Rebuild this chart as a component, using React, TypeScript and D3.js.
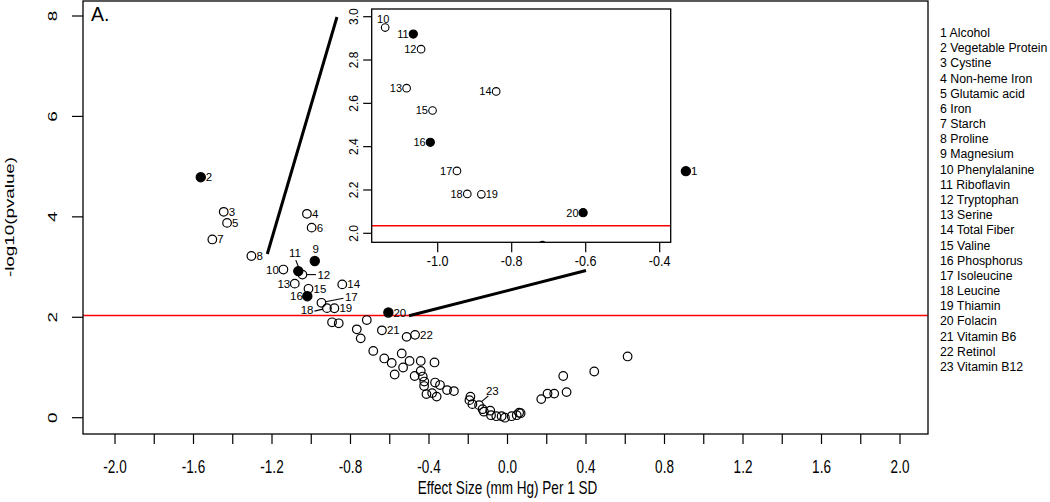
import React from "react";
import * as d3 from "d3";

const W = 1050;
const H = 502;
const FONT = "'Liberation Sans', Arial, Helvetica, sans-serif";

// ---- data -------------------------------------------------------------
const nutrientNames = [
  "Alcohol", "Vegetable Protein", "Cystine", "Non-heme Iron", "Glutamic acid",
  "Iron", "Starch", "Proline", "Magnesium", "Phenylalanine", "Riboflavin",
  "Tryptophan", "Serine", "Total Fiber", "Valine", "Phosphorus", "Isoleucine",
  "Leucine", "Thiamin", "Folacin", "Vitamin B6", "Retinol", "Vitamin B12",
];
const labeledEffect = [
  0.909, -1.563, -1.446, -1.022, -1.429, -0.998, -1.504, -1.305, -0.982, -1.142,
  -1.066, -1.045, -1.084, -0.842, -1.014, -1.02, -0.948, -0.92, -0.882, -0.607,
  -0.64, -0.471, -0.145,
];
const labeledNegLogP = [
  4.91, 4.79, 4.1, 4.06, 3.88, 3.785, 3.55, 3.22, 3.12, 2.95, 2.92, 2.85, 2.67,
  2.655, 2.567, 2.42, 2.288, 2.182, 2.18, 2.095, 1.74, 1.65, 0.25,
];
const labeledFilled = [
  true, true, false, false, false, false, false, false, true, false, true, false,
  false, false, false, true, false, false, false, true, false, false, false,
];
const otherEffect = [
  -0.894, -0.86, -0.717, -0.768, -0.748, -0.514, -0.684, -0.628, -0.59, -0.575,
  -0.539, -0.532, -0.499, -0.442, -0.372, -0.442, -0.473, -0.432, -0.425, -0.424,
  -0.413, -0.384, -0.361, -0.369, -0.344, -0.308, -0.273, -0.194, -0.189, -0.179,
  -0.127, -0.12, -0.088, -0.084, -0.057, -0.03, -0.013, 0.021, 0.047, 0.059,
  0.067, 0.172, 0.204, 0.238, 0.301, 0.284, 0.442, 0.612,
];
const otherNegLogP = [
  1.9, 1.88, 1.945, 1.76, 1.58, 1.61, 1.33, 1.18, 1.09, 0.86, 1.28, 1.0, 1.13,
  1.13, 1.1, 0.93, 0.83, 0.82, 0.63, 0.72, 0.47, 0.49, 0.42, 0.7, 0.65, 0.55,
  0.53, 0.35, 0.42, 0.27, 0.17, 0.12, 0.14, 0.05, 0.03, 0.03, 0.0, 0.03, 0.05,
  0.1, 0.09, 0.37, 0.48, 0.48, 0.51, 0.83, 0.92, 1.22,
];
const threshold = 2.035;
const xTicks = d3.range(-2.0, 2.0001, 0.2);
const xTickLabels = ["-2.0", "-1.6", "-1.2", "-0.8", "-0.4", "0.0", "0.4", "0.8", "1.2", "1.6", "2.0"];
const yTicks = [0, 2, 4, 6, 8];
const insetXTicks = [-1.0, -0.8, -0.6, -0.4];
const insetYTicks = [2.0, 2.2, 2.4, 2.6, 2.8, 3.0];
// zoom connector lines (data coords of the main panel)
const zoomLineA = [[-1.224, 3.26], [-0.869, 7.98]];
const zoomLineB = [[-0.502, 2.03], [0.4, 2.93]];

// label placement in main panel: r = right, l = left, t = top, k = leader line
const mainLabelSide = ["r","r","r","r","r","r","r","r","t","l","k","k","l","r","r","l","k","k","r","r","r","r","k"];
// inset label placement for ids 10..20
const insetLabelSide = ["t","l","l","l","l","l","l","l","l","r","l"];

// ---- layout -----------------------------------------------------------
const M = { left: 83, right: 928, top: 1, bottom: 434 };
const x = d3.scaleLinear().domain([-2, 2]).range([115, 900]);
const y = d3.scaleLinear().domain([0, 8]).range([417.7, 16]);
const IN = { left: 371.7, right: 670.7, top: 9, bottom: 242.3 };
const ix = d3.scaleLinear().domain([-1.0, -0.4]).range([437.7, 659.7]);
const iy = d3.scaleLinear().domain([2.0, 3.0]).range([233.3, 16.7]);

function T(props: any) {
  const { x: tx, y: ty, size, anchor = "middle", sx = 1, rot = 0, children, fill = "#000" } = props;
  return (
    <text
      transform={`translate(${tx},${ty}) scale(${sx},1) rotate(${rot})`}
      textAnchor={anchor}
      fontSize={size}
      fontFamily={FONT}
      fill={fill}
    >
      {children}
    </text>
  );
}

const leaders: Record<number, any> = {
  11: { line: [-2.5, -11, 0, -4.6], lx: -3.4, ly: -14, anchor: "middle" },
  12: { line: [4.4, 0, 13.5, 0], lx: 15, ly: 4, anchor: "start" },
  17: { line: [4, -1, 22, -4.5], lx: 23.5, ly: -2, anchor: "start" },
  18: { line: [-4, 1, -12.5, 3], lx: -13.5, ly: 6, anchor: "end" },
  23: { line: [2.5, -3.5, 9.3, -9.3], lx: 13.3, ly: -10, anchor: "middle" },
};

export default function App() {
  const R = 4.3;
  const IR = 3.8;
  const lblSize = 11.5;
  const axisSize = 18.8;
  const sxAxis = 0.72;

  const mainPoints = labeledEffect.map((e, i) => ({ e, p: labeledNegLogP[i], f: labeledFilled[i], id: i + 1 }));
  const others = otherEffect.map((e, i) => ({ e, p: otherNegLogP[i], f: false, id: 0 }));
  const all = [...others, ...mainPoints];

  return (
    <svg width={W} height={H} style={{ position: "absolute", left: 0, top: 0, background: "#fff" }}>
      <rect x={0} y={0} width={W} height={H} fill="#fff" />
      <defs>
        <clipPath id="mainClip">
          <rect x={M.left} y={M.top} width={M.right - M.left} height={M.bottom - M.top} />
        </clipPath>
        <clipPath id="insetClip">
          <rect x={IN.left} y={IN.top} width={IN.right - IN.left} height={IN.bottom - IN.top} />
        </clipPath>
      </defs>

      {/* main panel */}
      <line x1={M.left} x2={M.right} y1={y(threshold)} y2={y(threshold)} stroke="#ff0000" strokeWidth={1.4} />
      <g clipPath="url(#mainClip)">
        {all.map((d, i) => (
          <circle key={i} cx={x(d.e)} cy={y(d.p)} r={d.f ? 4.6 : R}
            fill={d.f ? "#000" : "none"} stroke="#000" strokeWidth={1.2} />
        ))}
      </g>
      {/* main labels */}
      {mainPoints.map((d, i) => {
        const px = x(d.e), py = y(d.p);
        const side = mainLabelSide[i];
        const label = String(d.id);
        if (side === "r") return <T key={i} x={px + 5} y={py + 4} size={lblSize} anchor="start">{label}</T>;
        if (side === "l") return <T key={i} x={px - 4.5} y={py + 4} size={lblSize} anchor="end">{label}</T>;
        if (side === "t") return <T key={i} x={px + 1} y={py - 8} size={lblSize} anchor="middle">{label}</T>;
        const L = leaders[d.id];
        return (
          <g key={i}>
            <line x1={px + L.line[0]} y1={py + L.line[1]} x2={px + L.line[2]} y2={py + L.line[3]} stroke="#000" strokeWidth={1.1} />
            <T x={px + L.lx} y={py + L.ly} size={lblSize} anchor={L.anchor}>{label}</T>
          </g>
        );
      })}

      {/* zoom connector lines */}
      {[zoomLineA, zoomLineB].map((ln, i) => (
        <line key={i} x1={x(ln[0][0])} y1={y(ln[0][1])} x2={x(ln[1][0])} y2={y(ln[1][1])} stroke="#000" strokeWidth={3} />
      ))}

      {/* main box */}
      <rect x={M.left} y={M.top} width={M.right - M.left} height={M.bottom - M.top} fill="none" stroke="#000" strokeWidth={1.3} />

      {/* x axis */}
      {xTicks.map((t, i) => (
        <line key={i} x1={x(t)} x2={x(t)} y1={M.bottom} y2={M.bottom + 10} stroke="#000" strokeWidth={1.2} />
      ))}
      {xTickLabels.map((s, i) => (
        <T key={i} x={x(+s)} y={473} size={axisSize} sx={sxAxis}>{s}</T>
      ))}
      <T x={507.5} y={494} size={axisSize} sx={sxAxis}>Effect Size (mm Hg) Per 1 SD</T>

      {/* y axis */}
      {yTicks.map((t, i) => (
        <g key={i}>
          <line x1={M.left - 11} x2={M.left} y1={y(t)} y2={y(t)} stroke="#000" strokeWidth={1.2} />
          <T x={56.7} y={y(t)} size={axisSize} sx={sxAxis} rot={-90}>{String(t)}</T>
        </g>
      ))}
      <T x={13.5} y={217} size={axisSize} sx={sxAxis} rot={-90}>-log10(pvalue)</T>
      <T x={91} y={21} size={19.5} anchor="start">A.</T>

      {/* inset */}
      <rect x={IN.left} y={IN.top} width={IN.right - IN.left} height={IN.bottom - IN.top} fill="#fff" />
      <line x1={IN.left} x2={IN.right} y1={iy(threshold)} y2={iy(threshold)} stroke="#ff0000" strokeWidth={1.4} />
      <g clipPath="url(#insetClip)">
        {all.map((d, i) => (
          <circle key={i} cx={ix(d.e)} cy={iy(d.p)} r={d.f ? 4.1 : IR}
            fill={d.f ? "#000" : "none"} stroke="#000" strokeWidth={1.1} />
        ))}
      </g>
      {mainPoints.slice(9, 20).map((d, i) => {
        const px = ix(d.e), py = iy(d.p);
        const side = insetLabelSide[i];
        const label = String(d.id);
        if (side === "t") return <T key={i} x={px - 2} y={py - 5} size={11} anchor="middle">{label}</T>;
        if (side === "r") return <T key={i} x={px + 4.3} y={py + 4} size={11} anchor="start">{label}</T>;
        return <T key={i} x={px - 4.6} y={py + 4} size={11} anchor="end">{label}</T>;
      })}
      <rect x={IN.left} y={IN.top} width={IN.right - IN.left} height={IN.bottom - IN.top} fill="none" stroke="#000" strokeWidth={1.3} />
      {insetXTicks.map((t, i) => (
        <g key={i}>
          <line x1={ix(t)} x2={ix(t)} y1={IN.bottom} y2={IN.bottom + 10} stroke="#000" strokeWidth={1.2} />
          <T x={ix(t)} y={265.5} size={15} sx={0.84}>{t.toFixed(1)}</T>
        </g>
      ))}
      {insetYTicks.map((t, i) => (
        <g key={i}>
          <line x1={IN.left - 8.5} x2={IN.left} y1={iy(t)} y2={iy(t)} stroke="#000" strokeWidth={1.2} />
          <T x={357.7} y={iy(t)} size={12} rot={-90}>{t.toFixed(1)}</T>
        </g>
      ))}

      {/* legend */}
      {nutrientNames.map((n, i) => (
        <T key={i} x={940} y={37 + i * 15.18} size={12.3} anchor="start">{`${i + 1} ${n}`}</T>
      ))}
    </svg>
  );
}
